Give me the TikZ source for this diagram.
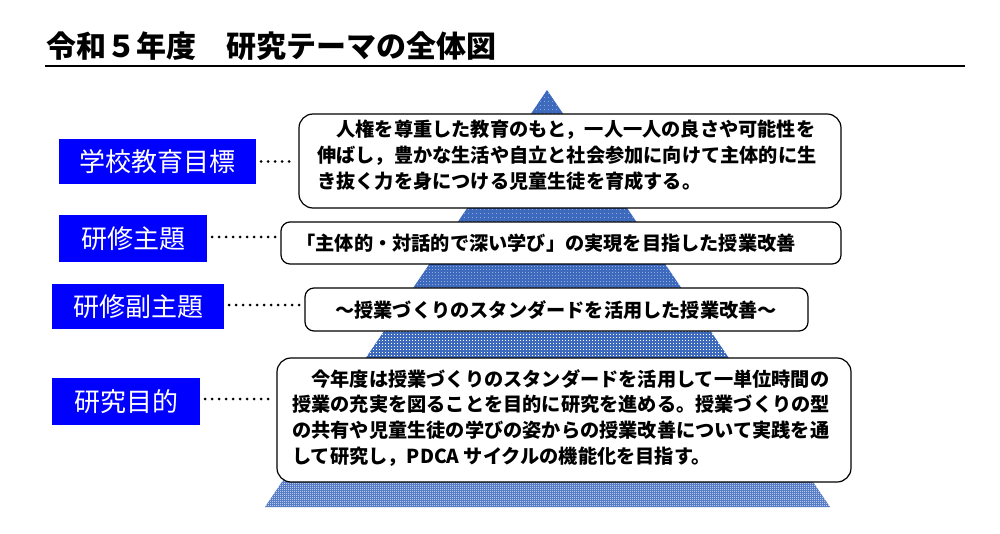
\documentclass[tikz,border=0pt]{standalone}
\usepackage{fontspec}
\setmainfont{Noto Sans CJK JP}
\usetikzlibrary{patterns}
\definecolor{pyrblue}{RGB}{62,106,190}
\definecolor{labblue}{RGB}{0,0,255}
\pgfdeclarepatternformonly{sparsedots}{\pgfpointorigin}{\pgfpoint{4pt}{4pt}}{\pgfpoint{4pt}{4pt}}{%
  \pgfpathrectangle{\pgfpointorigin}{\pgfpoint{0.9pt}{0.9pt}}\pgfusepath{fill}}
\pgfdeclarepatternformonly{middots}{\pgfpointorigin}{\pgfpoint{3pt}{3pt}}{\pgfpoint{3pt}{3pt}}{%
  \pgfpathrectangle{\pgfpointorigin}{\pgfpoint{0.9pt}{0.9pt}}\pgfusepath{fill}}
\pgfdeclarepatternformonly{griddots}{\pgfpointorigin}{\pgfpoint{2.5pt}{2.5pt}}{\pgfpoint{2.5pt}{2.5pt}}{%
  \pgfpathrectangle{\pgfpointorigin}{\pgfpoint{1pt}{1pt}}\pgfusepath{fill}}
\pgfdeclarepatternformonly{checker}{\pgfpointorigin}{\pgfpoint{2pt}{2pt}}{\pgfpoint{2pt}{2pt}}{%
  \pgfpathrectangle{\pgfpointorigin}{\pgfpoint{1pt}{1pt}}%
  \pgfpathrectangle{\pgfpoint{1pt}{1pt}}{\pgfpoint{1pt}{1pt}}\pgfusepath{fill}}
\tikzset{
  labelbox/.style={fill=labblue, text=white, inner sep=0pt, font=\fontsize{26}{30}\selectfont},
  textbox/.style={draw=black, line width=1.2pt, fill=white, rounded corners=14pt, inner sep=0pt},
  boxtext/.style={inner sep=0pt, align=left, font=\fontsize{19.2}{25.8}\selectfont\bfseries},
  dotline/.style={line width=3pt, line cap=round, dash pattern=on 0pt off 7pt, shorten <=5pt, shorten >=3pt}
}
\begin{document}
\begin{tikzpicture}[x=1pt,y=-1pt]
\useasboundingbox (0,0) rectangle (1000,534);
\fill[white] (0,0) rectangle (1000,534);
% title
\node[anchor=west, inner sep=0pt, font=\fontsize{30}{32}\selectfont\bfseries] (title) at (46,46) {令和５年度　研究テーマの全体図};
\draw[line width=2pt] (45,66) -- (965,66);
% pyramid
\begin{scope}
  \clip (547,90) -- (830,507) -- (265,507) -- cycle;
  \fill[pyrblue] (260,85) rectangle (840,510);
  \fill[pattern=sparsedots, pattern color=white] (260,85) rectangle (840,250);
  \fill[pattern=middots, pattern color=white] (260,250) rectangle (840,320);
  \fill[pattern=griddots, pattern color=white] (260,320) rectangle (840,420);
  \fill[pattern=checker, pattern color=white] (260,420) rectangle (840,510);
\end{scope}
% text boxes
\draw[textbox] (299,114) rectangle (841,208);
\coordinate (b1w) at (299,161);
\draw[textbox, rounded corners=9pt] (281,222) rectangle (841,264);
\coordinate (b2w) at (281,243);
\draw[textbox, rounded corners=9pt] (305,288) rectangle (808,331);
\coordinate (b3w) at (305,309);
\draw[textbox] (277,358) rectangle (851,482);
\coordinate (b4w) at (277,420);
% box texts
\node[boxtext, anchor=north west] (t1) at (317,120) {　人権を尊重した教育のもと，一人一人の良さや可能性を\\伸ばし，豊かな生活や自立と社会参加に向けて主体的に生\\き抜く力を身につける児童生徒を育成する。};
\node[boxtext] (t2) at (546,243) {「主体的・対話的で深い学び」の実現を目指した授業改善};
\node[boxtext] (t3) at (556,310) {～授業づくりのスタンダードを活用した授業改善～};
\node[boxtext, anchor=north west] (t4) at (292,369) {　今年度は授業づくりのスタンダードを活用して一単位時間の\\授業の充実を図ることを目的に研究を進める。授業づくりの型\\の共有や児童生徒の学びの姿からの授業改善について実践を通\\して研究し，PDCA サイクルの機能化を目指す。};
% labels
\node[labelbox, minimum width=197pt, minimum height=45pt] (l1) at (157.5,161.5) {学校教育目標};
\node[labelbox, minimum width=148pt, minimum height=47pt] (l2) at (133,238.5) {研修主題};
\node[labelbox, minimum width=172pt, minimum height=45pt] (l3) at (138,306.5) {研修副主題};
\node[labelbox, minimum width=148pt, minimum height=47pt] (l4) at (126,401.5) {研究目的};
% dotted connectors
\draw[dotline] (l1.east) -- (l1.east -| b1w);
\draw[dotline] ([yshift=1.5pt]l2.east) -- ([yshift=1.5pt]l2.east -| b2w);
\draw[dotline] ([yshift=1.5pt]l3.east) -- ([yshift=1.5pt]l3.east -| b3w);
\draw[dotline] ([yshift=2.5pt]l4.east) -- ([yshift=2.5pt]l4.east -| b4w);
\end{tikzpicture}
\end{document}
